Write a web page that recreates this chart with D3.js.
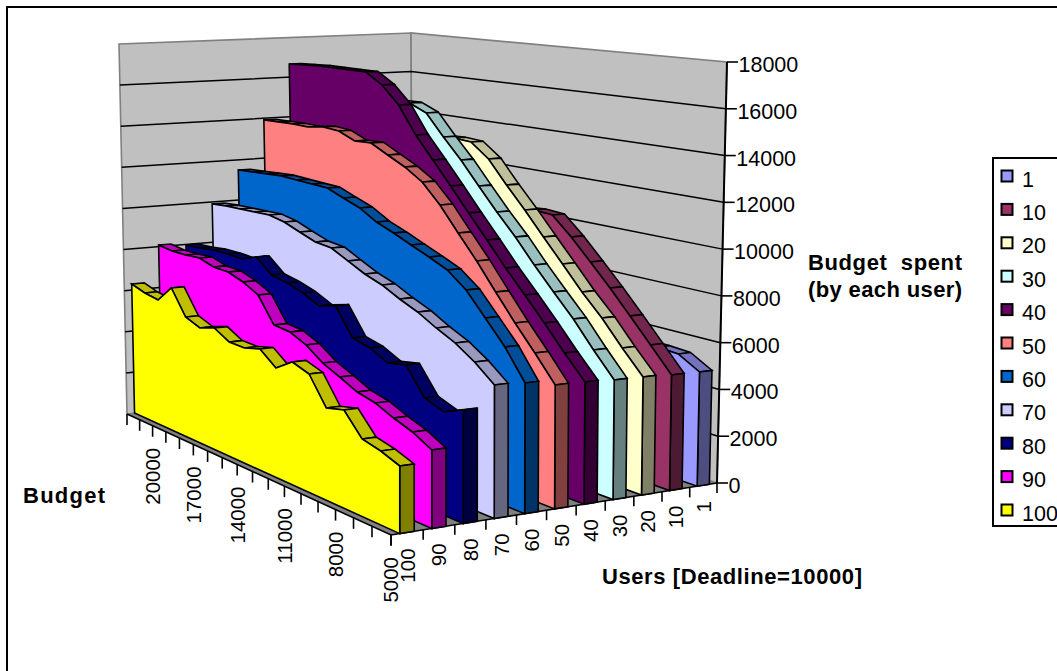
<!DOCTYPE html>
<html><head><meta charset="utf-8"><script src="https://cdn.jsdelivr.net/npm/d3@7/dist/d3.min.js"></script>
<style>html,body{margin:0;background:#fff;overflow:hidden}svg{display:block}text{font-family:"Liberation Sans",Arial,sans-serif;fill:#000}</style></head>
<body><svg id="c" width="1057" height="671"></svg>
<script>
const budgets=[22000,21000,20000,19000,18000,17000,16000,15000,14000,13000,12000,11000,10000,9000,8000,7000,6000,5000];
const budgetLabels=[20000,17000,14000,11000,8000,5000];
const users=[100,90,80,70,60,50,40,30,20,10,1];
const legendOrder=[1,10,20,30,40,50,60,70,80,90,100];
const valueTicks=[0,2000,4000,6000,8000,10000,12000,14000,16000,18000];
const s100=[6291,6066,5946,6728,5589,5309,5541,5145,5119,5319,4741,5252,4998,3841,4035,3139,2953,2663];
const s90=[8080,7977,7975,8025,7798,7766,7510,7129,6004,5926,5594,5061,4718,4349,4162,3823,3542,3117];
const s80=[7969,8010,8102,8101,8057,8345,7710,7549,7307,6943,7163,5997,5807,5417,5585,4480,4183,4542];
const s70=[9893,9959,9980,10003,10030,9872,9583,9305,9218,8826,8447,8170,7775,7438,6990,6601,6064,5387];
const s60=[11491,11539,11589,11641,11599,11562,11529,11224,10930,10466,10151,9804,9470,9106,8461,7503,6534,5313];
const s50=[13913,13933,13955,13931,14055,13988,13643,13681,13262,12856,12328,11463,10404,9376,8250,7158,6142,5077];
const s40=[16667,16707,16747,16740,16735,16732,16211,15376,14102,13088,12056,11007,9988,8955,7995,7023,5997,5046];
const s30=[15100,15150,15200,15250,15270,15280,15291,14931,13930,13002,11962,10950,10011,8968,7998,7058,5979,4975];
const s20=[13179,13254,13329,13406,13484,13562,13642,13676,13618,12963,11914,10939,9902,8895,7872,6967,5920,4947];
const s10=[9763,9871,9981,10092,10205,10318,10384,10453,10523,10596,10671,10611,9793,8866,7922,6920,5905,4880];
const s1=[5430,5430,5430,5430,5430,5430,5430,5430,5430,5430,5430,5430,5430,5430,5430,5430,5375,4856];
const seriesValues=new Map([[100,s100],[90,s90],[80,s80],[70,s70],[60,s60],[50,s50],[40,s40],[30,s30],[20,s20],[10,s10],[1,s1]]);
const seriesColors=new Map([[1,"#9999FF"],[10,"#993366"],[20,"#FFFFCC"],[30,"#CCFFFF"],[40,"#660066"],[50,"#FF8080"],[60,"#0066CC"],[70,"#CCCCFF"],[80,"#000080"],[90,"#FF00FF"],[100,"#FFFF00"]]);

// perspective box: floor and ceiling corners of the 3D plot
const floorQ={A:[391,535],B:[127,414],C:[717,483],D:[413,380]};
const ceilQ={A:[391,77],B:[119,44],C:[727,62],D:[411,33]};
function hom(q){const [x0,y0]=q.A,[x1,y1]=q.B,[x3,y3]=q.C,[x2,y2]=q.D;
 const dx1=x1-x2,dx2=x3-x2,sx=x0-x1+x2-x3,dy1=y1-y2,dy2=y3-y2,sy=y0-y1+y2-y3;
 const den=dx1*dy2-dx2*dy1,g=(sx*dy2-dx2*sy)/den,h=(dx1*sy-sx*dy1)/den;
 const a=x1-x0+g*x1,b=x3-x0+h*x3,d=y1-y0+g*y1,e=y3-y0+h*y3;
 return (u,v)=>{const w=g*u+h*v+1;return [(a*u+b*v+x0)/w,(d*u+e*v+y0)/w];};}
const hf=hom(floorQ),ht=hom(ceilQ);
const xS=d3.scaleLinear().domain([5000,22000]).range([0,1]);
const yS=d3.scaleLinear().domain([0,18000]).range([0,1]);
const zS=d3.scaleBand().domain(users).range([0,1]);
const bw=zS.bandwidth();
const P=(b,val,z)=>{const u=xS(b),t=yS(val),f=hf(u,z),c=ht(u,z);return [f[0]+(c[0]-f[0])*t,f[1]+(c[1]-f[1])*t];};
const poly=d3.line().curve(d3.curveLinearClosed);
const shade=(col,k)=>{const c=d3.rgb(col);return d3.rgb(c.r*k,c.g*k,c.b*k).formatHex();};

const svg=d3.select("#c");
svg.append("rect").attr("x",7).attr("y",7).attr("width",1300).attr("height",1000).attr("fill","#fff").attr("stroke","#000").attr("stroke-width",2);

const bMin=5000,bMax=22000,vMax=18000;
// walls
const walls=svg.append("g");
walls.append("path").attr("d",poly([P(bMax,0,0),P(bMax,vMax,0),P(bMax,vMax,1),P(bMax,0,1)])).attr("fill","#C0C0C0").attr("stroke","#808080").attr("stroke-width",1.6);
walls.append("path").attr("d",poly([P(bMax,0,1),P(bMax,vMax,1),P(bMin,vMax,1),P(bMin,0,1)])).attr("fill","#C0C0C0").attr("stroke","#808080").attr("stroke-width",1.6);
// gridlines
const grid=svg.append("g").attr("stroke","#000").attr("stroke-width",1.5).attr("fill","none");
grid.selectAll("path").data(valueTicks.filter(v=>v>0&&v<vMax)).join("path")
 .attr("d",v=>d3.line()([P(bMax,v,0),P(bMax,v,1),P(bMin,v,1)]));
// floor
svg.append("path").attr("d",poly([P(bMin,0,0),P(bMax,0,0),P(bMax,0,1),P(bMin,0,1)])).attr("fill","#808080");
svg.append("path").attr("d",d3.line()([P(bMax,0,0),P(bMin,0,0),P(bMin,0,1)])).attr("fill","none").attr("stroke","#000").attr("stroke-width",1.6);

// series, from the back to the front
const backFrac=.72,frontFrac=.27;
const marks=svg.append("g").attr("stroke","#000").attr("stroke-width",1.6).attr("stroke-linejoin","miter").attr("stroke-miterlimit",3);
[...users].reverse().forEach(u=>{
 const vals=seriesValues.get(u),col=seriesColors.get(u);
 const zf=zS(u)+bw*frontFrac,zb=zS(u)+bw*backFrac;
 const g=marks.append("g");
 g.selectAll("path.top").data(d3.range(budgets.length-1)).join("path").attr("class","top")
  .attr("fill",shade(col,.75))
  .attr("d",i=>poly([P(budgets[i],vals[i],zf),P(budgets[i+1],vals[i+1],zf),P(budgets[i+1],vals[i+1],zb),P(budgets[i],vals[i],zb)]));
 const last=budgets.length-1;
 g.append("path").attr("fill",shade(col,.5))
  .attr("d",poly([P(bMin,0,zf),P(bMin,vals[last],zf),P(bMin,vals[last],zb),P(bMin,0,zb)]));
 const face=budgets.map((b,i)=>P(b,vals[i],zf));
 g.append("path").attr("fill",col)
  .attr("d",poly([P(bMax,0,zf),...face,P(bMin,0,zf)]));
});

// value axis
const axis=svg.append("g").attr("stroke","#000");
axis.append("path").attr("d",d3.line()([P(bMin,0,1),P(bMin,vMax,1)])).attr("stroke-width",2).attr("fill","none");
axis.selectAll("line").data(valueTicks).join("line").attr("stroke-width",1.6)
 .attr("x1",v=>P(bMin,v,1)[0]).attr("y1",v=>P(bMin,v,1)[1])
 .attr("x2",v=>P(bMin,v,1)[0]+11).attr("y2",v=>P(bMin,v,1)[1]);
svg.append("g").selectAll("text").data(valueTicks).join("text").attr("font-size",21.5)
 .attr("x",v=>P(bMin,v,1)[0]+11.5).attr("y",v=>P(bMin,v,1)[1]+10).text(v=>v);

// budget axis
const bt=svg.append("g").attr("stroke","#000").attr("stroke-width",1.6);
bt.selectAll("line").data(budgets).join("line")
 .attr("x1",b=>P(b,0,0)[0]).attr("x2",b=>P(b,0,0)[0]).attr("y1",b=>P(b,0,0)[1]).attr("y2",b=>P(b,0,0)[1]+11);
svg.append("g").selectAll("text").data(budgetLabels).join("text").attr("font-size",20.5).attr("text-anchor","end")
 .attr("transform",b=>{const p=P(b,0,0);return `translate(${p[0]},${p[1]+22}) rotate(-90)`;}).attr("dy","0.36em").text(b=>b);

// users axis
const ut=svg.append("g").attr("stroke","#000").attr("stroke-width",1.6);
const zEdges=d3.range(users.length+1).map(i=>i*bw);
ut.selectAll("line").data(zEdges).join("line")
 .attr("x1",z=>P(bMin,0,z)[0]).attr("x2",z=>P(bMin,0,z)[0]).attr("y1",z=>P(bMin,0,z)[1]).attr("y2",z=>P(bMin,0,z)[1]+10);
svg.append("g").selectAll("text").data(users).join("text").attr("font-size",20.5).attr("text-anchor","end")
 .attr("transform",u=>{const p=P(bMin,0,zS(u)+bw/2);return `translate(${p[0]},${p[1]+16}) rotate(-90)`;}).attr("dy","0.36em").text(u=>u);

// titles
const titles=[["Budget",23,503,82],["Budget  spent",808,270,154],["(by each user)",808,297,154],["Users [Deadline=10000]",602,584,260]];
svg.append("g").selectAll("text").data(titles).join("text").attr("font-size",22).attr("font-weight","bold")
 .attr("xml:space","preserve").style("white-space","pre")
 .attr("x",d=>d[1]).attr("y",d=>d[2]).attr("textLength",d=>d[3]).attr("lengthAdjust","spacing").text(d=>d[0]);

// legend
const lg=svg.append("g");
lg.append("rect").attr("x",993).attr("y",158).attr("width",200).attr("height",368).attr("fill","#fff").attr("stroke","#000").attr("stroke-width",2);
const ly=d3.scalePoint().domain(legendOrder).range([176,510]);
lg.selectAll("rect.k").data(legendOrder).join("rect").attr("class","k").attr("x",1001.5).attr("width",11).attr("height",11)
 .attr("y",d=>ly(d)-5.5).attr("fill",d=>seriesColors.get(d)).attr("stroke","#000").attr("stroke-width",2);
lg.selectAll("text").data(legendOrder).join("text").attr("font-size",21.5).attr("x",1022).attr("y",d=>ly(d)+10.5).text(d=>d);
</script></body></html>
